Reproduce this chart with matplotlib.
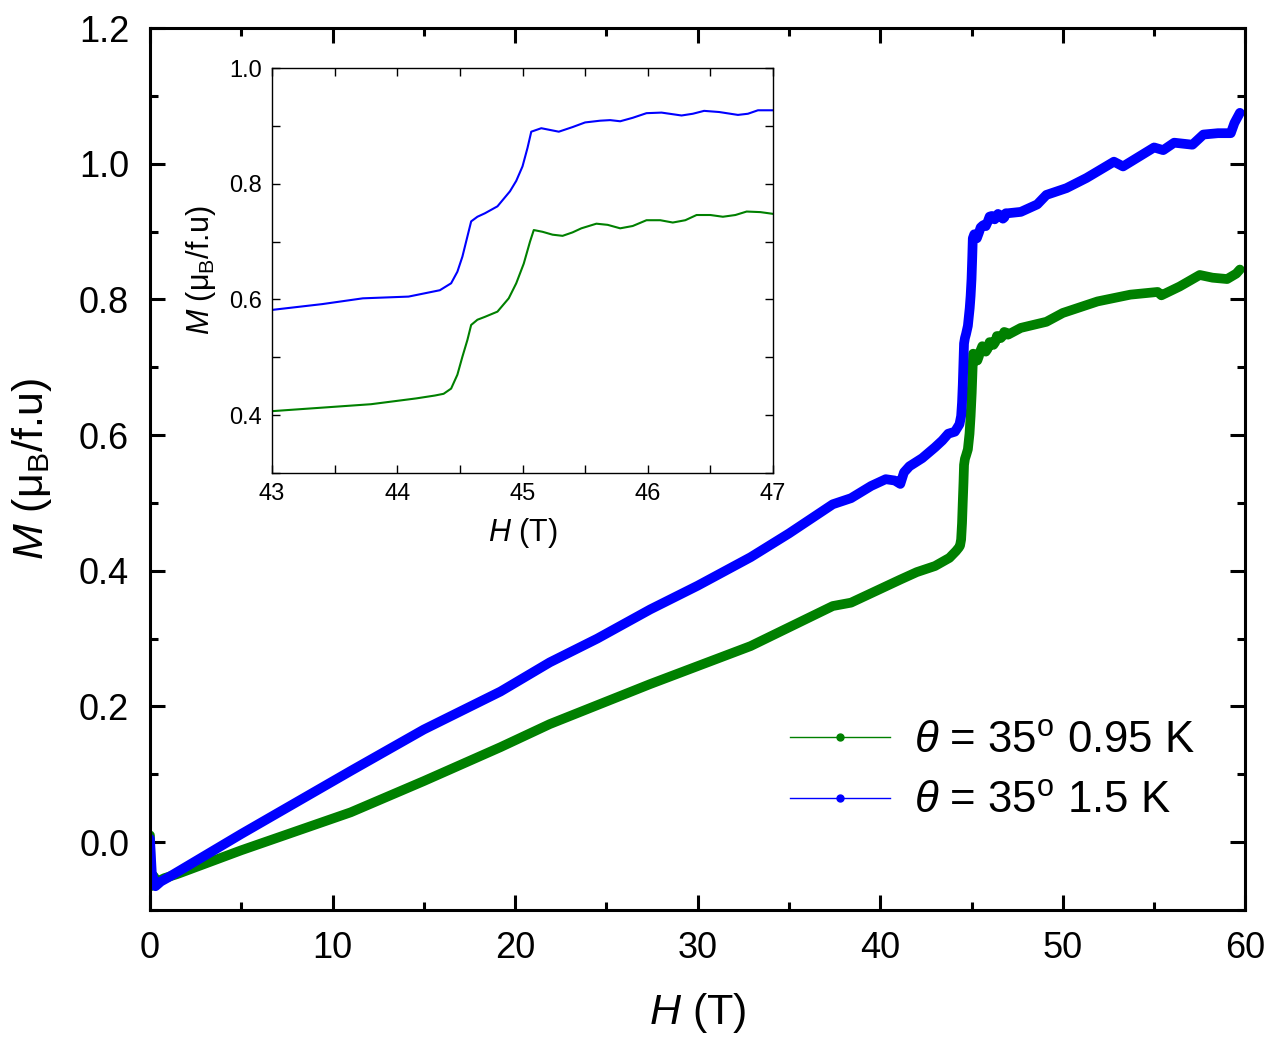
import numpy as np
import matplotlib.pyplot as plt
from matplotlib.lines import Line2D
from matplotlib.ticker import MultipleLocator, FormatStrFormatter

plt.rcParams['font.family'] = ['Liberation Sans', 'DejaVu Sans']
plt.rcParams['mathtext.fontset'] = 'custom'
plt.rcParams['mathtext.rm'] = 'Liberation Sans'
plt.rcParams['mathtext.it'] = 'Liberation Sans:italic'

# dados: campo H (T) e magnetizacao M (muB/f.u)
H_095 = [0.0, 0.05, 0.2, 0.4, 0.8, 1.5, 5.0, 11.0, 15.0, 19.2, 21.9, 27.4, 32.9,
         37.4, 38.4, 41.1, 42.0,
         43.0, 43.79, 44.15, 44.30, 44.37, 44.43, 44.48, 44.52, 44.56, 44.59, 44.64,
         44.70, 44.80, 44.89, 44.95, 45.01, 45.06, 45.09, 45.16, 45.24, 45.32, 45.40,
         45.47, 45.59, 45.68, 45.78, 45.88, 45.99, 46.1, 46.2, 46.3, 46.39,
         46.5, 46.6, 46.7, 46.79, 46.9, 47.0,
         47.7, 49.1, 50.0, 51.9, 53.7, 55.2, 55.4, 56.4, 57.5, 58.2, 59.0, 59.5, 59.7]
M_095 = [0.01, -0.065, -0.05, -0.058, -0.053, -0.047, -0.012, 0.044, 0.090, 0.140, 0.174, 0.233, 0.289,
         0.348, 0.353, 0.387, 0.398,
         0.407, 0.419, 0.429, 0.434, 0.437, 0.446, 0.470, 0.501, 0.530, 0.556, 0.565,
         0.570, 0.579, 0.602, 0.628, 0.662, 0.700, 0.720, 0.717, 0.712, 0.710, 0.716,
         0.723, 0.731, 0.729, 0.723, 0.727, 0.737, 0.737, 0.733, 0.737, 0.746,
         0.746, 0.743, 0.746, 0.752, 0.751, 0.748,
         0.758, 0.767, 0.780, 0.797, 0.807, 0.811, 0.806, 0.819, 0.836, 0.832, 0.830, 0.838, 0.844]

H_15 = [0.0, 0.1, 0.3, 0.6, 1.0, 5.0, 11.0, 15.0, 19.2, 21.9, 24.5, 27.4, 30.0, 32.9,
        35.0, 37.4, 38.4, 39.5, 40.3, 40.8, 41.1, 41.3, 41.6, 42.3,
        43.0, 43.4, 43.725, 44.09, 44.34, 44.43, 44.48, 44.52, 44.59, 44.64, 44.70,
        44.80, 44.90, 44.95, 45.0, 45.04, 45.07, 45.15, 45.22, 45.29, 45.4, 45.5,
        45.62, 45.70, 45.78, 45.88, 45.99, 46.11, 46.27, 46.36,
        46.45, 46.57, 46.72, 46.80, 46.88, 47.0,
        47.7, 48.6, 49.1, 50.2, 51.3, 52.8, 53.3, 55.0, 55.5, 56.1, 57.1, 57.7,
        58.5, 59.2, 59.4, 59.7]
M_15 = [0.005, -0.045, -0.065, -0.058, -0.052, 0.012, 0.105, 0.166, 0.222, 0.265, 0.300, 0.343, 0.378, 0.420,
        0.455, 0.498, 0.507, 0.525, 0.535, 0.533, 0.528, 0.545, 0.554, 0.566,
        0.582, 0.592, 0.602, 0.605, 0.616, 0.628, 0.648, 0.674, 0.735, 0.743, 0.749,
        0.761, 0.787, 0.805, 0.830, 0.862, 0.890, 0.896, 0.893, 0.890, 0.898, 0.906,
        0.909, 0.910, 0.908, 0.914, 0.922, 0.923, 0.918, 0.921,
        0.926, 0.924, 0.919, 0.921, 0.927, 0.927,
        0.929, 0.940, 0.954, 0.964, 0.979, 1.003, 0.996, 1.024, 1.020, 1.031, 1.028, 1.043,
        1.045, 1.045, 1.060, 1.075]

verde = '#008000'
azul = '#0000ff'

fig = plt.figure(figsize=(12.73, 10.42), dpi=100)
ax = fig.add_axes([0.1178, 0.1267, 0.8605, 0.8464])

ax.plot(H_095, M_095, color=verde, lw=7, solid_capstyle='round', solid_joinstyle='round')
ax.plot(H_15, M_15, color=azul, lw=7, solid_capstyle='round', solid_joinstyle='round')

ax.set_xlim(0, 60)
ax.set_ylim(-0.1, 1.2)
ax.xaxis.set_major_locator(MultipleLocator(10))
ax.xaxis.set_minor_locator(MultipleLocator(5))
ax.yaxis.set_major_locator(MultipleLocator(0.2))
ax.yaxis.set_minor_locator(MultipleLocator(0.1))
ax.yaxis.set_major_formatter(FormatStrFormatter('%.1f'))
ax.tick_params(which='both', direction='in', top=True, right=True, width=2.2)
ax.tick_params(which='major', length=11, labelsize=26, pad=15)
ax.tick_params(which='minor', length=5.5)
for s in ax.spines.values():
    s.set_linewidth(2.2)

ax.set_xlabel('$H$ (T)', fontsize=31, labelpad=18)
ax.set_ylabel('$M$ (μ$_\\mathrm{B}$/f.u)', fontsize=31, labelpad=18)

handles = [Line2D([], [], color=verde, lw=1, marker='o', ms=5),
           Line2D([], [], color=azul, lw=1, marker='o', ms=5)]
ax.legend(handles, ['$\\theta$ = 35$^\\mathrm{o}$ 0.95 K', '$\\theta$ = 35$^\\mathrm{o}$ 1.5 K'],
          loc='upper left', bbox_to_anchor=(0.584, 0.215), frameon=False,
          fontsize=31.5, handlelength=2.3, handletextpad=0.55, labelspacing=0.45,
          borderpad=0, borderaxespad=0)

# inset
axi = fig.add_axes([0.2137, 0.546, 0.3935, 0.3887])
axi.plot(H_095, M_095, color=verde, lw=1.5)
axi.plot(H_15, M_15, color=azul, lw=1.5)
axi.set_xlim(43, 47)
axi.set_ylim(0.3, 1.0)
axi.xaxis.set_major_locator(MultipleLocator(1))
axi.xaxis.set_minor_locator(MultipleLocator(0.5))
axi.yaxis.set_minor_locator(MultipleLocator(0.1))
axi.set_yticks([0.4, 0.6, 0.8, 1.0])
axi.yaxis.set_major_formatter(FormatStrFormatter('%.1f'))
axi.tick_params(which='both', direction='in', top=True, right=True, width=1)
axi.tick_params(which='major', length=6, labelsize=17, pad=7)
axi.tick_params(which='minor', length=6)
for s in axi.spines.values():
    s.set_linewidth(1)
axi.set_xlabel('$H$ (T)', fontsize=22, labelpad=8)
axi.set_ylabel('$M$ (μ$_\\mathrm{B}$/f.u)', fontsize=22, labelpad=8)

fig.savefig('out.png', dpi=100)
